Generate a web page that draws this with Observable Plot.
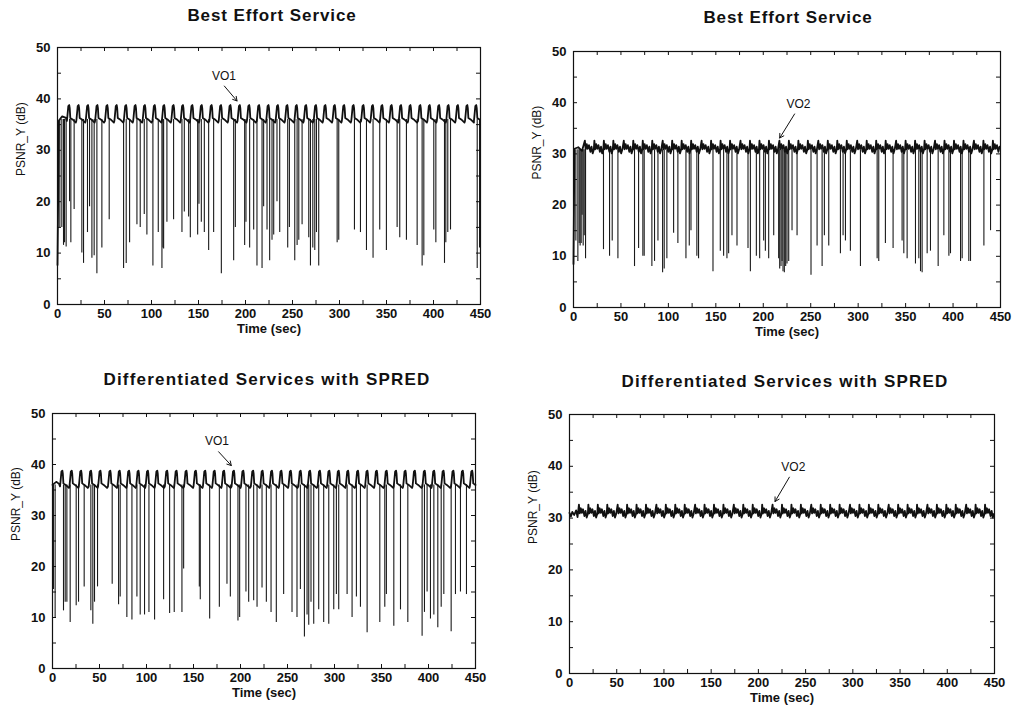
<!DOCTYPE html>
<html>
<head>
<meta charset="utf-8">
<script src="https://cdn.jsdelivr.net/npm/d3@7"></script>
<script src="https://cdn.jsdelivr.net/npm/@observablehq/plot@0.6"></script>
<style>
  html, body { margin: 0; padding: 0; background: #fff; }
  #root { position: relative; width: 1013px; height: 705px; overflow: hidden; font-family: "Liberation Sans", Arial, sans-serif; }
  .panel { position: absolute; }
  .title { position: absolute; transform: translate(-50%, -50%); white-space: nowrap; font-weight: bold; font-size: 17px; color: #111; }
</style>
</head>
<body>
<div id="root"></div>
<script>
// ---------- data ----------
const xMajorTicks = [0, 50, 100, 150, 200, 250, 300, 350, 400, 450];
const xMinorTicks = [25, 50, 75, 100, 125, 150, 175, 200, 225, 250, 275, 300, 325, 350, 375, 400, 425];
const yMajorTicks = [0, 10, 20, 30, 40, 50];
const yMinorTicks = [5, 10, 15, 20, 25, 30, 35, 40, 45];

const titles = ["Best Effort Service", "Best Effort Service", "Differentiated Services with SPRED", "Differentiated Services with SPRED"];
const xLabel = "Time (sec)";
const yLabel = "PSNR_Y (dB)";
const objectLabels = ["VO1", "VO2", "VO1", "VO2"];

// shape of one GOP cycle relative to its peak time: [offset sec, PSNR dB]
const vo1Cycle = [[-2.0, 35.7], [-1.5, 36.6], [-0.5, 38.6], [0.5, 38.8], [1.0, 38.2], [1.6, 36.3], [4.0, 36.0], [7.5, 35.4]];
const vo2Cycle = [[0, 32.6], [0.8, 30.9], [2.0, 31.9], [3.0, 31.0], [4.3, 31.7], [5.8, 30.4], [7.0, 31.4], [8.2, 30.1], [9.4, 30.8]];

// peak times
const vo1BestPeaks = [12, 22, 32, 42, 52.5, 62.5, 72.5, 82.5, 92.5, 103, 113, 123, 133, 143, 153, 163.5, 173.5, 183.5, 193.5, 203.5, 214, 224, 234, 244, 254, 264, 274.5, 284.5, 294.5, 304.5, 314.5, 325, 335, 345, 355, 365, 375, 385.5, 395.5, 405.5, 415.5, 425.5, 435.5, 445];
const vo2BestPeaks = [12, 22, 32, 42, 53, 63, 73, 83, 94, 104, 114, 124, 135, 145, 155, 165, 176, 186, 196, 206, 217, 227, 237, 247, 258, 268, 278, 288, 299, 309, 319, 329, 340, 350, 360, 370, 381, 391, 401, 411, 422, 432, 442];
const vo1SpredPeaks = [10, 20, 30, 40.5, 50.5, 61, 71, 81, 91, 101, 111, 121.5, 131.5, 142, 152, 162, 172, 182, 192.5, 202.5, 213, 223, 233, 243, 253, 263.5, 273.5, 284, 294, 304, 314, 324.5, 334.5, 344.5, 355, 365, 375, 385, 395.5, 405.5, 415.5, 426, 436, 446];
const vo2SpredPeaks = [10, 20, 30, 40, 51, 61, 71, 81, 92, 102, 112, 122, 133, 143, 153, 163, 174, 184, 194, 204, 215, 225, 235, 245, 256, 266, 276, 286, 297, 307, 317, 327, 338, 348, 358, 368, 379, 389, 399, 409, 420, 430, 440];

// start-up segments [time, PSNR]
const vo1BestStart = [[0, 7.7], [1.5, 35.8], [5, 36.6], [9, 36.3]];
const vo2BestStart = [[0, 8.5], [1.0, 31.0], [5, 31.3], [9, 30.6]];
const vo1SpredStart = [[0, 36.0], [4, 36.6], [7, 36.2]];
const vo2SpredStart = [[0, 31.0], [1.5, 30.3], [3, 31.2], [5, 30.6], [7, 31.5], [8.5, 30.2]];

// packet-loss drops: [time, minimum PSNR]
const vo1BestDrops = [[2.5, 15], [4.6, 15], [6.4, 11.5], [7.5, 12], [9.2, 11.2], [12.8, 20], [14.2, 12], [17.7, 18.5], [25.9, 10], [27.7, 8], [31.9, 14], [34.1, 19], [36.6, 9], [39.0, 9.5], [41.9, 6], [47.2, 11], [55.0, 16.5], [70.3, 7], [73.1, 8], [76.7, 12], [84.5, 15.5], [88.0, 15], [92.3, 17.5], [95.1, 13.5], [101.5, 7.5], [107.2, 14], [111.1, 7], [112.2, 11], [112.9, 10.8], [116.4, 16], [123.5, 16.5], [132.4, 14], [134.9, 18], [139.5, 17], [141.3, 13], [149.1, 13.5], [150.5, 19.5], [153.0, 16], [156.2, 14], [160.8, 10.5], [166.1, 14], [174.3, 6], [187.4, 8.5], [189.2, 15], [199.1, 11.5], [200.5, 16], [204.4, 11], [208.7, 14.5], [212.2, 7.5], [217.6, 7], [219.3, 19], [222.9, 14.5], [225.7, 8.5], [228.2, 12.5], [230.0, 13.5], [233.5, 20], [236.4, 14], [244.9, 11], [246.7, 15], [252.4, 8.5], [254.9, 11.5], [256.7, 12.5], [260.2, 15.5], [267.3, 13], [269.1, 7.5], [271.6, 11], [273.7, 10.5], [275.5, 14], [277.9, 7.5], [297.5, 12], [299.2, 12.5], [315.9, 14.5], [322.3, 14], [328.7, 10.5], [335.7, 9], [342.8, 14.5], [349.9, 10.5], [361.3, 15], [364.1, 13], [371.2, 12.5], [382.6, 11.5], [387.9, 7.5], [389.7, 9.5], [400.3, 14.5], [402.5, 12], [411.7, 8], [413.1, 12], [415.2, 14], [418.1, 14.5], [446.5, 7], [449.0, 11]];
const vo2BestDrops = [[2.5, 13], [4.6, 9], [6.0, 12.5], [7.0, 12], [8.1, 12.5], [9.1, 18], [10.2, 12], [11.3, 14], [12.7, 9.5], [31.6, 11.3], [38, 10], [40.8, 13], [46.8, 9.5], [64.3, 8], [68.6, 11.5], [73.1, 10], [74.5, 10], [82.6, 8], [85.4, 9], [89, 13], [93.9, 6.8], [95.6, 7.5], [98.4, 9.5], [105.5, 14.5], [110, 12.5], [118.5, 9.5], [122, 12], [123.8, 15], [130, 10], [131.8, 9.5], [147, 7], [154.7, 11], [158.2, 10], [161.7, 9.5], [163.5, 10.5], [167, 14], [172.3, 12], [183.9, 11.5], [186.4, 7], [192.7, 10], [196.2, 9.5], [200.4, 13], [202.2, 11], [205.7, 9.5], [211, 14], [216.2, 9.5], [217.3, 7.5], [218.7, 8], [219.8, 9], [220.8, 7], [222.2, 6.8], [223.6, 8], [225, 8.5], [226.8, 9], [230.3, 15], [235.6, 14], [250.3, 6.3], [256.7, 12], [262, 8], [264.4, 14], [269, 12], [281.3, 10.5], [284.1, 14], [286.6, 13], [291.8, 11], [302.4, 8], [320, 9.5], [321.7, 9], [328.7, 12.5], [336.8, 11.5], [346.3, 13], [348.1, 10.5], [351.6, 9.5], [360.4, 8.5], [363.9, 9.5], [365.7, 7], [367.4, 6.8], [372.7, 10.5], [376.2, 11], [384.3, 8], [390.3, 14], [395.6, 10], [397.3, 10.5], [407.9, 9], [409.6, 9.5], [416.6, 9], [418.4, 9], [432.5, 12], [439.5, 15]];
const vo1SpredDrops = [[1.0, 15.5], [2.8, 9.8], [11.7, 11.3], [13.5, 13], [15.3, 13], [18.8, 9], [25.2, 12.3], [27.7, 13], [33.7, 16], [40.8, 11.3], [42.9, 8.7], [44.7, 13], [47.9, 16], [63.5, 16.5], [70.3, 12.5], [72, 14], [79.1, 10], [84.5, 9.5], [89.8, 14], [93.3, 10.5], [97.9, 10.5], [102.6, 11], [108.6, 9.5], [118.2, 13.5], [124.6, 10.8], [129.5, 11], [137.7, 11], [139.5, 19.5], [156.2, 16], [157.2, 13.5], [167.2, 9.7], [177.5, 12], [185.6, 16.5], [189.2, 14], [197.3, 9.3], [199.1, 10], [205.8, 15], [208.7, 13], [214, 13.3], [217.6, 12], [222.9, 15.8], [227.5, 13], [232.5, 11], [238.1, 9], [245.9, 14.5], [254.8, 11], [260.1, 10], [263.7, 15.5], [268, 6.2], [270.8, 10.5], [272.6, 8.5], [275, 13], [277.9, 8.7], [283.2, 11.5], [288.5, 9], [293.9, 8.7], [299.2, 11.5], [302, 14.5], [304.5, 11.5], [313.4, 14.5], [318.7, 10], [323.3, 14], [327.6, 12], [334.7, 7], [348.2, 9], [353.5, 12], [355.2, 14.5], [363.1, 8.3], [370.2, 11.5], [378, 9], [393.2, 6.3], [395.7, 11], [398.5, 15], [402.1, 9.7], [405.7, 10.5], [409.9, 8], [413.5, 12], [416.3, 14.5], [424.1, 7.2], [428.7, 14.5], [434, 15], [440.4, 14.5]];
const vo2SpredDrops = [];

// annotation: [labelTime, labelPSNR, arrowFromTime, arrowFromPSNR, arrowToTime, arrowToPSNR]
const vo1BestNote = [177, 44.4, 177.5, 42.5, 191, 39.6];
const vo2BestNote = [237, 39.8, 233, 37.8, 217.3, 33.1];
const vo1SpredNote = [175, 44.5, 176.7, 42.5, 190.2, 39.8];
const vo2SpredNote = [237, 39.8, 232.8, 37.9, 217.6, 33.2];

// ---------- layout ----------
const layout = [
  {left: 0,   top: 0,   width: 500, height: 340, ml: 57, mr: 20, mt: 47, mb: 36, tx: 272, ty: 16, ls: 0.9},
  {left: 510, top: 0,   width: 503, height: 340, ml: 63, mr: 13, mt: 51, mb: 33, tx: 788, ty: 18, ls: 0.9},
  {left: 0,   top: 360, width: 500, height: 345, ml: 52, mr: 25, mt: 53, mb: 37, tx: 267, ty: 380, ls: 1.2},
  {left: 510, top: 360, width: 503, height: 345, ml: 59, mr: 19, mt: 54, mb: 32, tx: 785, ty: 382, ls: 1.2}
];
const series = [
  {peaks: vo1BestPeaks, cycle: vo1Cycle, start: vo1BestStart, drops: vo1BestDrops, note: vo1BestNote, dropTop: 36},
  {peaks: vo2BestPeaks, cycle: vo2Cycle, start: vo2BestStart, drops: vo2BestDrops, note: vo2BestNote, dropTop: 30.8},
  {peaks: vo1SpredPeaks, cycle: vo1Cycle, start: vo1SpredStart, drops: vo1SpredDrops, note: vo1SpredNote, dropTop: 36},
  {peaks: vo2SpredPeaks, cycle: vo2Cycle, start: vo2SpredStart, drops: vo2SpredDrops, note: vo2SpredNote, dropTop: 30.8}
];

const root = document.getElementById("root");
const tickLen = 4;

series.forEach((s, i) => {
  const L = layout[i];
  const lastStart = s.start[s.start.length - 1][0];
  const pts = s.start.map(([t, v]) => ({t, v}));
  for (const p of s.peaks) for (const [dt, v] of s.cycle) {
    const t = p + dt;
    if (t > lastStart && t <= 450) pts.push({t, v});
  }
  pts.sort((a, b) => a.t - b.t);
  const drops = s.drops.map(([t, v]) => ({t, v}));
  const fw = L.width - L.ml - L.mr;
  const fh = L.height - L.mt - L.mb;
  const n = s.note;

  const chart = Plot.plot({
    width: L.width, height: L.height,
    marginLeft: L.ml, marginRight: L.mr, marginTop: L.mt, marginBottom: L.mb,
    x: {domain: [0, 450]},
    y: {domain: [0, 50]},
    style: {fontFamily: "Liberation Sans, Arial, sans-serif", fontSize: "13px", fontWeight: "bold", color: "#111", background: "transparent"},
    marks: [
      Plot.ruleX(drops, {x: "t", y1: "v", y2: s.dropTop, stroke: "#1a1a1a", strokeWidth: 1.1}),
      Plot.line(pts, {x: "t", y: "v", stroke: "#111", strokeWidth: 1.8, strokeLinejoin: "round"}),
      Plot.frame({stroke: "#111", strokeWidth: 1.2}),
      // inward ticks on all four sides
      Plot.ruleX(xMinorTicks, {x: d => d, insetTop: fh - tickLen, stroke: "#111"}),
      Plot.ruleX(xMinorTicks, {x: d => d, insetBottom: fh - tickLen, stroke: "#111"}),
      Plot.ruleY(yMinorTicks, {y: d => d, insetRight: fw - tickLen, stroke: "#111"}),
      Plot.ruleY(yMinorTicks, {y: d => d, insetLeft: fw - tickLen, stroke: "#111"}),
      Plot.axisX({ticks: xMajorTicks, tickSize: 0, tickPadding: 4, label: null, fontWeight: "bold", fontSize: 13}),
      Plot.axisY({ticks: yMajorTicks, tickSize: 0, tickPadding: 7, label: null, fontWeight: "bold", fontSize: 13}),
      Plot.text([xLabel], {frameAnchor: "bottom", dy: 24, lineAnchor: "middle", text: d => d, fontWeight: "bold", fontSize: 13}),
      Plot.text([yLabel], {frameAnchor: "left", dx: -36, rotate: -90, lineAnchor: "middle", text: d => d, fontWeight: "normal", fontSize: 12}),
      Plot.arrow([n], {x1: d => d[2], y1: d => d[3], x2: d => d[4], y2: d => d[5], stroke: "#111", strokeWidth: 1, headLength: 7}),
      Plot.text([n], {x: d => d[0], y: d => d[1], text: () => objectLabels[i], fontWeight: "normal", fontSize: 12, lineAnchor: "middle"})
    ]
  });
  const wrap = document.createElement("div");
  wrap.className = "panel";
  wrap.style.left = L.left + "px";
  wrap.style.top = L.top + "px";
  wrap.appendChild(chart);
  root.appendChild(wrap);

  const t = document.createElement("div");
  t.className = "title";
  t.textContent = titles[i];
  t.style.left = L.tx + "px";
  t.style.top = L.ty + "px";
  t.style.letterSpacing = L.ls + "px";
  root.appendChild(t);
});
</script>
</body>
</html>
